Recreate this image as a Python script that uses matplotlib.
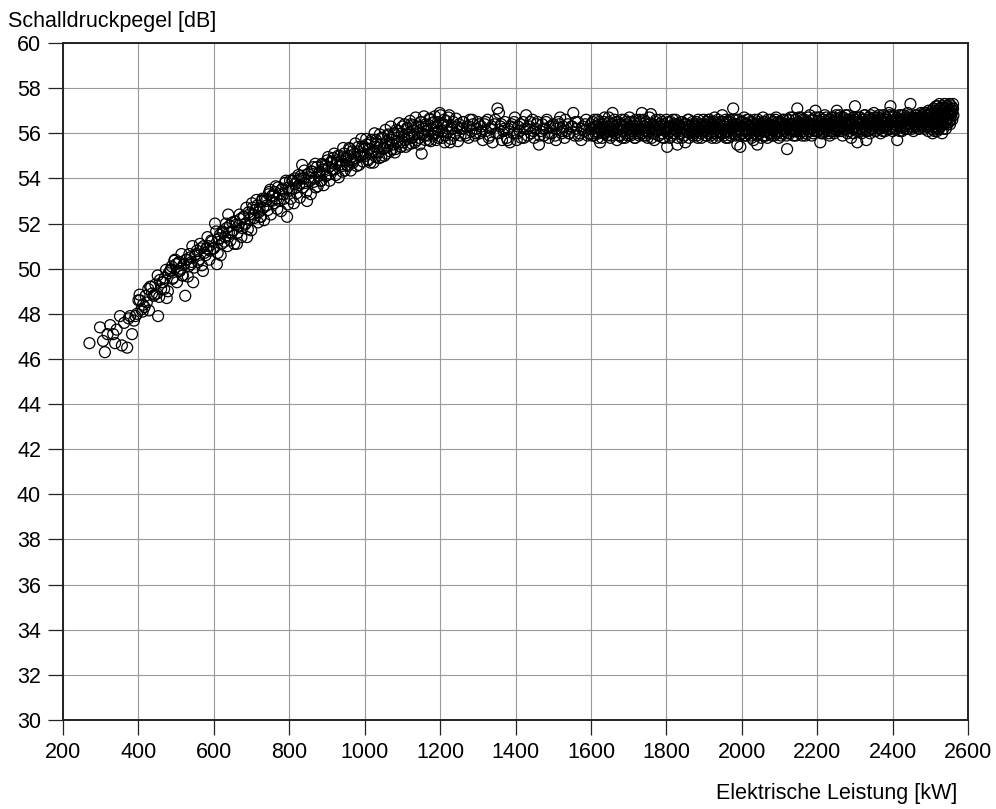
import numpy as np
import matplotlib.pyplot as plt

plt.rcParams['font.family'] = ['Liberation Sans', 'DejaVu Sans']

# --- measured data: electrical power [kW] vs. sound pressure level [dB] ---
# part load ramp (270 .. 1000 kW)
ramp_kw = [270, 298, 306, 311, 318, 325, 333, 338, 342, 351, 356, 362, 370, 374, 378,
           383, 388, 392, 396, 400, 404, 408, 412, 416, 422, 426, 431, 436, 440, 445,
           449, 452, 457, 460, 465, 470, 475, 480, 484, 488, 492, 497, 500, 504, 508,
           512, 516, 520, 524, 528, 533, 537, 541, 545, 550, 555, 560, 565, 571, 575,
           580, 585, 590, 595, 600, 603, 608, 612, 616, 620, 625, 630, 634, 638, 642,
           646, 651, 656, 661, 665, 670, 675, 680, 684, 688, 692, 696, 701, 705, 710,
           715, 719, 723, 727, 731, 735, 740, 745, 749, 753, 757, 762, 766, 770, 775,
           780, 784, 788, 794, 798, 802, 806, 810, 814, 818, 822, 826, 830, 834, 838,
           842, 847, 850, 855, 859, 863, 867, 870, 873, 877, 881, 885, 889, 893, 897,
           901, 905, 909, 913, 917, 921, 925, 929, 933, 937, 941, 945, 949, 953, 957,
           961, 965, 969, 973, 977, 981, 985, 989, 993, 997]
ramp_db = [46.7, 47.4, 46.8, 46.3, 47.1, 47.5, 47.1, 46.7, 47.3, 47.9, 46.6, 47.6, 46.5, 47.8, 47.9,
           47.1, 47.7, 47.9, 48.0, 48.6, 48.6, 48.2, 48.4, 48.3, 48.5, 49.1, 49.2, 48.9, 48.8, 49.3,
           48.9, 47.9, 49.5, 49.1, 49.4, 49.6, 48.7, 49.8, 49.9, 50.1, 49.6, 50.4, 50.2, 49.9, 50.3,
           50.0, 49.7, 50.2, 48.8, 50.4, 50.1, 50.5, 50.3, 49.4, 50.6, 50.8, 50.4, 50.9, 49.9, 50.7,
           50.9, 51.0, 50.8, 51.2, 50.9, 52.0, 50.2, 51.3, 51.5, 51.1, 51.6, 51.4, 51.8, 52.4, 51.9,
           51.6, 51.7, 52.1, 51.1, 51.9, 52.2, 51.8, 52.3, 52.0, 51.4, 52.5, 52.2, 52.9, 52.4, 52.6,
           52.8, 52.5, 52.3, 53.0, 52.7, 53.1, 52.8, 53.3, 53.5, 53.0, 53.2, 53.4, 53.1, 53.6, 53.0,
           53.5, 53.3, 53.8, 52.3, 53.6, 53.9, 53.5, 53.9, 54.0, 53.6, 53.9, 53.7, 54.1, 54.6, 54.0,
           53.8, 53.0, 54.2, 53.9, 54.3, 54.5, 54.0, 53.6, 54.5, 54.1, 54.3, 53.9, 54.6, 54.4, 54.1,
           54.8, 54.5, 54.2, 54.7, 54.9, 54.4, 54.7, 55.0, 54.6, 54.8, 54.3, 55.1, 54.8, 54.6, 55.0,
           55.3, 54.8, 54.7, 55.1, 54.9, 55.2, 54.6, 55.0, 55.4, 55.1]
ramp2_kw = [403, 411, 419, 428, 434, 443, 451, 455, 463, 468, 473, 478, 486, 490, 495,
            502, 506, 510, 514, 518, 526, 531, 535, 539, 543, 548, 553, 558, 563, 568,
            573, 578, 583, 588, 593, 598, 606, 610, 614, 618, 623, 628, 632, 636, 640,
            644, 649, 654, 659, 663, 668, 673, 678, 682, 686, 690, 694, 699, 703, 708,
            713, 717, 721, 725, 729, 733, 738, 743, 747, 751, 755, 760, 764, 768, 773,
            778, 782, 786, 791, 796, 800, 804, 808, 812, 816, 820, 824, 828, 832, 836,
            840, 845, 852, 857, 861, 865, 869, 875, 879, 883, 887, 891, 895, 899, 903,
            907, 911, 915, 919, 923, 927, 931, 935, 939, 943, 947, 951, 955, 959, 963,
            967, 971, 975, 979, 983, 987, 991, 995, 999]
ramp2_db = [48.85, 48.1, 48.8, 48.15, 49.2, 48.85, 49.7, 48.75, 49.4, 49.1, 49.95, 49.0, 49.95, 49.55, 50.35,
            49.4, 50.25, 49.9, 50.65, 49.7, 50.4, 49.65, 50.65, 50.2, 51.0, 50.05, 50.65, 50.3, 51.1, 50.15,
            51.0, 50.6, 51.4, 50.4, 51.25, 50.9, 51.65, 50.7, 51.35, 50.6, 51.65, 51.2, 52.0, 51.0, 51.6,
            51.25, 52.05, 51.1, 51.95, 51.6, 52.4, 51.4, 52.3, 51.95, 52.7, 51.75, 52.4, 51.7, 52.7, 52.25,
            53.05, 52.05, 52.65, 52.3, 53.1, 52.15, 53.0, 52.6, 53.4, 52.4, 53.25, 52.9, 53.65, 52.65, 53.3,
            52.55, 53.55, 53.1, 53.9, 52.85, 53.45, 53.1, 53.9, 52.9, 53.75, 53.35, 54.15, 53.15, 54.0, 53.6,
            54.35, 53.4, 54.05, 53.3, 54.3, 53.85, 54.65, 53.65, 54.25, 53.9, 54.65, 53.7, 54.55, 54.15, 54.95,
            53.9, 54.75, 54.4, 55.1, 54.15, 54.8, 54.05, 55.0, 54.55, 55.35, 54.35, 54.9, 54.55, 55.35, 54.35,
            55.2, 54.8, 55.55, 54.55, 55.4, 55.0, 55.75, 54.75, 55.4]

# transition towards rated noise (1000 .. 1250 kW)
trans_kw = [1002, 1005, 1009, 1012, 1016, 1019, 1023, 1027, 1030, 1034, 1038, 1041, 1045, 1049,
            1052, 1056, 1060, 1063, 1067, 1071, 1074, 1078, 1082, 1085, 1089, 1093, 1096, 1100,
            1104, 1107, 1111, 1115, 1118, 1122, 1126, 1129, 1133, 1137, 1140, 1144, 1148, 1151,
            1155, 1159, 1162, 1166, 1170, 1173, 1177, 1181, 1184, 1188, 1192, 1195, 1199, 1203,
            1206, 1210, 1214, 1218, 1222, 1226, 1230, 1235, 1240, 1245,
            1004, 1008, 1011, 1015, 1018, 1022, 1026, 1029, 1033, 1037, 1040, 1044, 1047, 1051,
            1055, 1058, 1062, 1065, 1069, 1073, 1076, 1080, 1084, 1087, 1091, 1095, 1098, 1102,
            1106, 1109, 1113, 1117, 1120, 1124, 1128, 1131, 1135, 1139, 1142, 1146, 1150, 1153,
            1157, 1161, 1164, 1168, 1172, 1175, 1179, 1183, 1186, 1190, 1194, 1197, 1201, 1205,
            1209, 1212, 1216, 1220, 1224, 1228, 1232, 1237, 1242, 1247]
trans_db = [55.0, 55.5, 54.8, 55.3, 55.6, 55.1, 54.7, 55.4, 55.7, 55.2, 54.9, 55.5, 55.8, 55.3,
            55.0, 55.6, 55.4, 55.9, 55.2, 55.7, 55.5, 56.0, 55.3, 55.8, 56.1, 55.6, 55.4, 56.3,
            55.9, 55.7, 56.2, 55.5, 56.0, 56.4, 55.8, 56.1, 55.6, 56.3, 56.0, 55.8, 56.5, 55.1,
            56.2, 55.9, 56.4, 56.1, 55.7, 56.6, 56.2, 55.9, 56.5, 56.0, 56.3, 55.8, 56.9, 56.4,
            56.1, 56.6, 55.9, 56.3, 56.7, 55.6, 56.2, 56.5, 56.0, 56.3,
            55.75, 54.85, 55.5, 54.7, 55.7, 55.2, 56.0, 54.95, 55.55, 55.15, 55.95, 54.95, 55.8, 55.35,
            56.15, 55.1, 55.95, 55.55, 56.3, 55.3, 55.95, 55.15, 56.15, 55.65, 56.45, 55.4, 56.0, 55.6,
            56.4, 55.4, 56.25, 55.8, 56.55, 55.55, 56.35, 55.95, 56.7, 55.7, 56.3, 55.5, 56.5, 56.0,
            56.75, 55.7, 56.3, 55.9, 56.65, 55.65, 56.45, 56.0, 56.75, 55.7, 56.5, 56.1, 56.8, 55.8,
            56.4, 55.6, 56.55, 56.05, 56.8, 55.75, 56.3, 55.9, 56.65, 55.65]

# plateau (1250 .. 1900 kW)
plat_kw = [1250, 1254, 1258, 1262, 1266, 1270, 1275, 1279, 1283, 1287, 1292, 1296, 1300, 1305,
           1309, 1313, 1318, 1322, 1326, 1331, 1335, 1339, 1344, 1348, 1352, 1356, 1360, 1364,
           1368, 1372, 1377, 1381, 1385, 1390, 1394, 1398, 1403, 1407, 1411, 1415, 1420, 1424,
           1428, 1432, 1437, 1441, 1445, 1449, 1454, 1458, 1462, 1466, 1471, 1475, 1479, 1483,
           1488, 1492, 1496, 1500, 1505, 1509, 1513, 1518, 1522, 1526, 1530, 1535, 1539, 1543,
           1548, 1553, 1557, 1561, 1565, 1570, 1574, 1578, 1583, 1587, 1591, 1596,
           1252, 1260, 1268, 1277, 1285, 1294, 1303, 1311, 1320, 1329, 1337, 1346, 1354, 1362,
           1370, 1379, 1388, 1396, 1405, 1413, 1422, 1430, 1439, 1447, 1456, 1464, 1473, 1481,
           1490, 1498, 1507, 1515, 1524, 1532, 1541, 1550, 1559, 1567, 1576, 1585, 1594,
           1600, 1603, 1606, 1609, 1612, 1615, 1618, 1621, 1624, 1627, 1630, 1633, 1636, 1639,
           1642, 1645, 1648, 1651, 1654, 1657, 1660, 1663, 1666, 1669, 1672, 1675, 1678, 1681,
           1684, 1687, 1690, 1693, 1696, 1699, 1702, 1705, 1708, 1711, 1714, 1717, 1720, 1723,
           1726, 1729, 1732, 1735, 1738, 1741, 1744, 1747, 1750, 1753, 1756, 1759, 1762, 1765,
           1768, 1771, 1774, 1777, 1780, 1783, 1786, 1789, 1792, 1795, 1798, 1802, 1805, 1808,
           1811, 1814, 1817, 1820, 1823, 1826, 1829, 1832, 1835, 1838, 1841, 1844, 1847, 1850,
           1853, 1856, 1859, 1862, 1865, 1868, 1871, 1874, 1877, 1880, 1883, 1886, 1889, 1892,
           1895, 1898]
plat_db = [56.4, 55.9, 56.2, 56.5, 56.0, 56.3, 55.8, 56.6, 56.1, 56.4, 55.9, 56.2, 56.5, 56.0,
           56.3, 55.7, 56.4, 56.1, 56.6, 55.9, 56.2, 55.6, 56.4, 56.0, 57.1, 56.9, 56.3, 55.7,
           56.1, 56.5, 55.8, 56.2, 55.6, 56.4, 56.0, 56.7, 55.7, 56.3, 56.1, 55.8, 56.5, 56.2,
           56.8, 55.9, 56.3, 56.0, 56.6, 55.8, 56.2, 56.5, 55.5, 56.1, 56.4, 55.9, 56.2, 56.6,
           55.8, 56.3, 56.0, 56.4, 55.9, 56.2, 56.5, 56.7, 56.0, 56.3, 55.8, 56.1, 56.4, 56.0,
           56.3, 56.9, 55.9, 56.2, 56.5, 56.0, 55.7, 56.3, 56.1, 56.6, 55.9, 56.2,
           56.2, 56.5, 55.9, 56.3, 56.6, 56.0, 56.4, 56.1, 56.5, 55.8, 56.3, 56.6, 56.0, 56.4,
           56.2, 55.7, 56.3, 56.5, 56.0, 56.4, 55.8, 56.2, 56.5, 56.1, 56.4, 55.9, 56.2, 56.5,
           56.0, 56.3, 55.7, 56.4, 56.1, 56.6, 56.0, 56.3, 56.5, 55.9, 56.2, 56.4, 56.0,
           56.4, 55.9, 56.2, 56.6, 56.0, 56.3, 55.8, 56.5, 55.6, 56.1, 56.4, 56.0, 56.7, 56.2,
           55.9, 56.3, 56.5, 55.8, 56.1, 56.9, 56.3, 56.0, 56.5, 55.7, 56.2, 56.4, 55.9, 56.6,
           56.1, 56.3, 55.8, 56.5, 56.0, 56.2, 56.7, 55.9, 56.3, 56.1, 56.5, 55.8, 56.2, 56.4,
           56.0, 56.6, 56.2, 56.9, 55.9, 56.3, 56.1, 56.5, 55.8, 56.2, 56.4, 56.85, 56.0, 56.3,
           55.7, 56.5, 56.1, 56.3, 55.9, 56.6, 56.2, 56.0, 56.4, 55.8, 56.2, 55.4, 56.5, 56.1,
           56.3, 55.9, 56.6, 56.2, 56.0, 56.4, 55.5, 56.3, 56.1, 56.5, 55.8, 56.2, 56.4, 55.6,
           56.1, 56.3, 56.6, 56.0, 56.2, 56.4, 55.9, 56.3, 56.1, 56.5, 55.8, 56.2, 56.4, 56.0,
           56.3, 56.6]
plat2_kw = [1601, 1605, 1608, 1611, 1614, 1617, 1620, 1623, 1626, 1629, 1632, 1635, 1638, 1641,
            1644, 1647, 1650, 1653, 1656, 1659, 1662, 1665, 1668, 1671, 1674, 1677, 1680, 1683,
            1686, 1689, 1692, 1695, 1698, 1701, 1704, 1707, 1710, 1713, 1716, 1719, 1722, 1725,
            1728, 1731, 1734, 1737, 1740, 1743, 1746, 1749, 1752, 1755, 1758, 1761, 1764, 1767,
            1770, 1773, 1776, 1779, 1782, 1785, 1788, 1791, 1794, 1797, 1800, 1803, 1806, 1809,
            1812, 1815, 1818, 1821, 1824, 1827, 1830, 1833, 1836, 1839, 1842, 1845, 1848, 1851,
            1854, 1857, 1860, 1863, 1866, 1869, 1872, 1875, 1878, 1881, 1884, 1887, 1890, 1893,
            1896, 1899]
plat2_db = [56.2, 56.5, 55.9, 56.3, 56.1, 56.6, 56.0, 56.4, 56.2, 55.8, 56.3, 56.5, 56.0, 56.4,
            56.1, 56.7, 56.2, 55.9, 56.4, 56.1, 56.6, 56.0, 56.3, 56.5, 55.9, 56.2, 56.4, 55.8,
            56.3, 56.6, 56.1, 56.4, 55.9, 56.2, 56.5, 56.0, 56.4, 56.2, 55.8, 56.6, 56.1, 56.3,
            55.9, 56.5, 56.2, 56.0, 56.6, 56.3, 55.9, 56.4, 56.1, 56.7, 56.2, 55.8, 56.4, 56.0,
            56.3, 56.6, 56.1, 55.9, 56.4, 56.2, 56.5, 55.8, 56.3, 56.1, 56.6, 56.0, 56.3, 55.8,
            56.5, 56.2, 56.0, 56.4, 56.6, 56.1, 55.8, 56.4, 56.2, 56.0, 56.5, 56.3, 55.9, 56.4,
            56.1, 56.6, 55.8, 56.3, 56.1, 56.5, 56.0, 56.4, 56.2, 55.9, 56.6, 56.1, 56.3, 55.8,
            56.4, 56.1]

# upper power range (1900 .. 2480 kW)
upper_kw = [1901, 1903, 1906, 1908, 1911, 1913, 1916, 1918, 1921, 1923, 1926, 1928, 1931, 1933,
            1936, 1938, 1941, 1943, 1946, 1948, 1951, 1953, 1956, 1958, 1961, 1963, 1966, 1968,
            1971, 1973, 1976, 1977, 1980, 1983, 1985, 1988, 1990, 1993, 1995, 1996, 1998, 2001,
            2003, 2006, 2008, 2011, 2013, 2016, 2018, 2021, 2023, 2026, 2028, 2031, 2033, 2036,
            2038, 2041, 2043, 2046, 2048, 2051, 2053, 2056, 2058, 2061, 2063, 2066, 2068, 2071,
            2073, 2076, 2078, 2081, 2083, 2086, 2088, 2091, 2093, 2096, 2098, 2101, 2103, 2106,
            2108, 2111, 2113, 2116, 2118, 2120, 2123, 2125, 2128, 2130, 2133, 2135, 2138, 2140,
            2143, 2145, 2147, 2150, 2152, 2155, 2157, 2160, 2162, 2165, 2167, 2170, 2172, 2175,
            2177, 2180, 2182, 2185, 2187, 2190, 2192, 2195, 2197,
            2200, 2202, 2205, 2207, 2208, 2210, 2213, 2215, 2218, 2220, 2223, 2225, 2228, 2230,
            2233, 2235, 2238, 2240, 2243, 2245, 2248, 2250, 2252, 2255, 2257, 2260, 2262, 2265,
            2267, 2270, 2272, 2275, 2277, 2280, 2282, 2285, 2287, 2290, 2292, 2295, 2297, 2300,
            2302, 2305, 2306, 2308, 2310, 2313, 2315, 2318, 2320, 2323, 2325, 2328, 2330, 2333,
            2335, 2338, 2340, 2343, 2345, 2348, 2350, 2353, 2355, 2358, 2360, 2363, 2365, 2368,
            2370, 2373, 2375, 2378, 2380, 2383, 2385, 2388, 2390, 2393, 2394, 2397, 2400, 2402,
            2405, 2407, 2410, 2412, 2415, 2417, 2420, 2422, 2425, 2427, 2430, 2432, 2435, 2437,
            2440, 2442, 2445, 2447, 2450, 2452, 2455, 2457, 2460, 2462, 2465, 2467, 2470, 2472,
            2475, 2477]
upper_db = [56.1, 56.4, 55.9, 56.3, 56.6, 56.0, 56.2, 56.5, 55.8, 56.3, 56.1, 56.7, 56.0, 56.4,
            56.2, 55.9, 56.5, 56.1, 56.3, 56.8, 56.0, 56.4, 56.2, 55.8, 56.5, 56.1, 56.3, 56.6,
            55.9, 56.2, 56.4, 57.1, 56.0, 56.3, 56.6, 55.5, 56.1, 56.4, 56.2, 55.4, 56.5, 56.0,
            56.3, 56.7, 56.1, 55.9, 56.4, 56.2, 56.6, 56.0, 56.3, 55.8, 56.5, 55.7, 56.2, 56.4,
            56.1, 55.5, 56.6, 56.3, 56.0, 56.4, 56.2, 56.7, 55.9, 56.3, 56.5, 56.1, 55.8, 56.4,
            56.2, 56.6, 56.0, 56.3, 56.5, 55.9, 56.2, 56.7, 56.1, 56.4, 55.8, 56.3, 56.5, 56.0,
            56.2, 56.6, 56.1, 56.4, 55.9, 55.3, 56.3, 56.6, 56.0, 56.4, 56.2, 56.7, 56.1, 56.4,
            55.9, 56.3, 57.1, 56.5, 56.1, 56.3, 56.7, 55.9, 56.4, 56.2, 56.6, 56.0, 56.3, 56.5,
            56.1, 56.8, 56.2, 55.9, 56.4, 56.6, 56.1, 57.0, 56.3,
            56.5, 56.1, 56.3, 56.7, 55.6, 56.2, 56.5, 56.0, 56.4, 56.8, 56.2, 56.5, 56.1, 56.6,
            55.9, 56.4, 56.7, 56.2, 56.5, 56.0, 56.3, 56.8, 57.0, 56.2, 56.5, 56.1, 56.7, 56.3,
            55.9, 56.5, 56.2, 56.8, 56.4, 56.0, 56.6, 56.3, 56.5, 55.8, 56.4, 56.7, 56.2, 57.2,
            56.5, 56.1, 55.6, 56.4, 56.7, 56.2, 56.5, 56.0, 56.6, 56.3, 56.8, 56.1, 55.7, 56.5,
            56.3, 56.7, 56.0, 56.4, 56.6, 56.2, 56.9, 56.4, 56.1, 56.5, 56.7, 56.2, 56.4, 56.0,
            56.6, 56.3, 56.8, 56.4, 56.1, 56.6, 56.3, 56.5, 56.9, 56.2, 57.2, 56.5, 56.1, 56.7,
            56.4, 56.6, 56.2, 55.7, 56.5, 56.8, 56.3, 56.6, 56.1, 56.5, 56.8, 56.3, 56.6, 56.2,
            56.9, 56.4, 56.7, 57.3, 56.3, 56.6, 56.1, 56.5, 56.8, 56.3, 56.6, 56.2, 56.7, 56.4,
            56.9, 56.3]
upper2_kw = [1902, 1904, 1907, 1909, 1912, 1914, 1917, 1919, 1922, 1924, 1927, 1929, 1932, 1934,
             1937, 1939, 1942, 1944, 1947, 1949, 1952, 1954, 1957, 1959, 1962, 1964, 1967, 1969,
             1972, 1974, 1978, 1981, 1984, 1986, 1989, 1991, 1994, 1997, 1999, 2002, 2004, 2007,
             2009, 2012, 2014, 2017, 2019, 2022, 2024, 2027, 2029, 2032, 2034, 2037, 2039, 2042,
             2044, 2047, 2049, 2052, 2054, 2057, 2059, 2062, 2064, 2067, 2069, 2072, 2074, 2077,
             2079, 2082, 2084, 2087, 2089, 2092, 2094, 2097, 2099, 2102, 2104, 2107, 2109, 2112,
             2114, 2117, 2119, 2122, 2124, 2127, 2129, 2132, 2134, 2137, 2139, 2142, 2144, 2146,
             2149, 2151, 2154, 2156, 2159, 2161, 2164, 2166, 2169, 2171, 2174, 2176, 2179, 2181,
             2184, 2186, 2189, 2191, 2194, 2196, 2199,
             2201, 2204, 2206, 2209, 2211, 2214, 2216, 2219, 2221, 2224, 2226, 2229, 2231, 2234,
             2236, 2239, 2241, 2244, 2246, 2249, 2251, 2254, 2256, 2259, 2261, 2264, 2266, 2269,
             2271, 2274, 2276, 2279, 2281, 2284, 2286, 2289, 2291, 2294, 2296, 2299, 2301, 2304,
             2307, 2309, 2312, 2314, 2317, 2319, 2322, 2324, 2327, 2329, 2332, 2334, 2337, 2339,
             2342, 2344, 2347, 2349, 2352, 2354, 2357, 2359, 2362, 2364, 2367, 2369, 2372, 2374,
             2377, 2379, 2382, 2384, 2387, 2389, 2392, 2395, 2398, 2401, 2403, 2406, 2408, 2411,
             2414, 2416, 2419, 2421, 2424, 2426, 2429, 2431, 2434, 2436, 2439, 2441, 2444, 2446,
             2449, 2451, 2454, 2456, 2459, 2461, 2464, 2466, 2469, 2471, 2474, 2476, 2479]
upper2_db = [56.3, 55.9, 56.5, 56.1, 56.3, 56.6, 55.9, 56.2, 56.4, 56.0, 56.5, 56.2, 55.8, 56.3,
             56.6, 56.1, 56.4, 56.0, 56.2, 56.5, 55.9, 56.3, 56.6, 56.1, 56.4, 55.8, 56.2, 56.5,
             56.0, 56.3, 56.6, 56.1, 55.9, 56.4, 56.2, 56.6, 55.9, 56.3, 56.0, 56.5, 56.2, 55.9,
             56.4, 56.1, 56.6, 56.0, 56.3, 56.5, 55.9, 56.2, 56.4, 56.0, 56.6, 56.3, 55.9, 56.2,
             56.5, 56.1, 56.4, 55.8, 56.3, 56.5, 56.1, 56.4, 55.9, 56.3, 56.6, 56.0, 56.4, 56.2,
             55.9, 56.5, 56.1, 56.3, 56.6, 56.0, 56.3, 56.5, 56.1, 56.4, 55.9, 56.3, 56.6, 56.1,
             56.4, 56.2, 56.6, 56.0, 56.4, 56.2, 56.7, 56.1, 56.4, 55.9, 56.3, 56.6, 56.1, 56.4,
             56.2, 56.7, 56.0, 56.4, 56.2, 56.6, 56.1, 56.4, 55.9, 56.5, 56.2, 56.7, 56.1, 56.4,
             56.2, 56.6, 56.0, 56.4, 56.3, 56.7, 56.1,
             56.4, 56.7, 56.2, 56.5, 56.0, 56.3, 56.6, 56.1, 56.4, 56.7, 56.2, 56.4, 56.0, 56.6,
             56.3, 56.5, 56.1, 56.7, 56.3, 56.5, 56.1, 56.6, 56.3, 56.8, 56.2, 56.5, 56.1, 56.7,
             56.4, 56.2, 56.6, 56.3, 56.8, 56.1, 56.4, 56.6, 56.2, 56.5, 56.0, 56.6, 56.3, 56.7,
             56.2, 56.5, 56.1, 56.7, 56.4, 56.2, 56.6, 56.3, 56.8, 56.2, 56.5, 56.1, 56.6, 56.4,
             56.8, 56.2, 56.5, 56.3, 56.7, 56.1, 56.4, 56.6, 56.3, 56.8, 56.2, 56.5, 56.7, 56.1,
             56.5, 56.3, 56.7, 56.2, 56.6, 56.4, 56.8, 56.2, 56.5, 56.3, 56.8, 56.2, 56.5, 56.7,
             56.3, 56.6, 56.1, 56.5, 56.8, 56.3, 56.6, 56.2, 56.7, 56.4, 56.6, 56.2, 56.8, 56.4,
             56.6, 56.2, 56.7, 56.4, 56.6, 56.3, 56.8, 56.4, 56.6, 56.2, 56.7, 56.5, 56.8]

# rated power cluster (2480 .. 2561 kW)
rated_kw = [2480, 2482, 2484, 2486, 2488, 2490, 2492, 2494, 2496, 2498, 2500, 2502, 2503, 2505,
            2506, 2508, 2509, 2510, 2512, 2513, 2514, 2515, 2516, 2517, 2518, 2519, 2520, 2521,
            2522, 2523, 2524, 2525, 2526, 2527, 2528, 2529, 2530, 2531, 2532, 2533, 2534, 2535,
            2536, 2537, 2538, 2539, 2540, 2541, 2542, 2543, 2544, 2545, 2546, 2547, 2548, 2549,
            2550, 2551, 2552, 2553, 2554, 2555, 2556, 2557, 2558, 2560, 2561,
            2481, 2483, 2485, 2487, 2489, 2491, 2493, 2495, 2497, 2499, 2501, 2504, 2507, 2511,
            2511, 2513, 2516, 2519, 2522, 2525, 2528, 2531, 2534, 2537, 2540, 2543, 2546, 2549,
            2552, 2555, 2558, 2560]
rated_db = [56.4, 56.7, 56.2, 56.5, 56.9, 56.3, 56.6, 56.1, 56.8, 56.4, 56.6, 56.2, 56.9, 56.5,
            56.0, 56.7, 57.1, 56.3, 56.6, 56.8, 56.2, 57.2, 56.5, 56.9, 56.1, 56.7, 57.0, 56.4,
            56.8, 56.2, 57.3, 56.6, 56.9, 56.3, 57.1, 56.5, 56.8, 56.0, 57.2, 56.6, 56.9, 56.4,
            57.0, 56.7, 57.3, 56.5, 56.8, 56.2, 57.1, 56.6, 56.9, 56.4, 57.2, 56.7, 57.0, 56.5,
            56.8, 57.3, 56.9, 56.6, 57.1, 56.8, 57.2, 56.9, 57.0, 57.3, 56.8,
            56.5, 56.9, 56.3, 56.7, 56.4, 56.8, 56.5, 57.0, 56.3, 56.8, 56.5, 57.0, 56.4, 56.9,
            56.1, 57.0, 56.3, 57.2, 56.5, 57.1, 56.4, 57.0, 56.2, 57.1, 56.5, 57.2, 56.6, 57.0,
            56.4, 56.9, 56.6, 57.1]

power = np.concatenate([ramp_kw, ramp2_kw, trans_kw, plat_kw, plat2_kw,
                        upper_kw, upper2_kw, rated_kw])
level = np.concatenate([ramp_db, ramp2_db, trans_db, plat_db, plat2_db,
                        upper_db, upper2_db, rated_db])

fig = plt.figure(figsize=(9.96, 8.09), dpi=100)
ax = fig.add_axes([0.0633, 0.110, 0.9087, 0.8368])

ax.scatter(power, level, s=62, facecolors='none', edgecolors='black',
           linewidths=0.9, zorder=3)

ax.set_xlim(200, 2600)
ax.set_ylim(30, 60)
ax.set_xticks(np.arange(200, 2601, 200))
ax.set_yticks(np.arange(30, 61, 2))
ax.grid(True, color='#9a9a9a', linewidth=0.8)
ax.set_axisbelow(True)
ax.tick_params(direction='out', length=10.8, width=0.9, color='#222222',
               labelsize=15.5, pad=5)
for sp in ax.spines.values():
    sp.set_linewidth(1.4)
    sp.set_color('#222222')

fig.text(0.008, 0.973, 'Schalldruckpegel [dB]', fontsize=15.5, ha='left', va='center')
fig.text(0.961, 0.019, 'Elektrische Leistung [kW]', fontsize=15.5, ha='right', va='center')

fig.savefig('out.png', dpi=100)
